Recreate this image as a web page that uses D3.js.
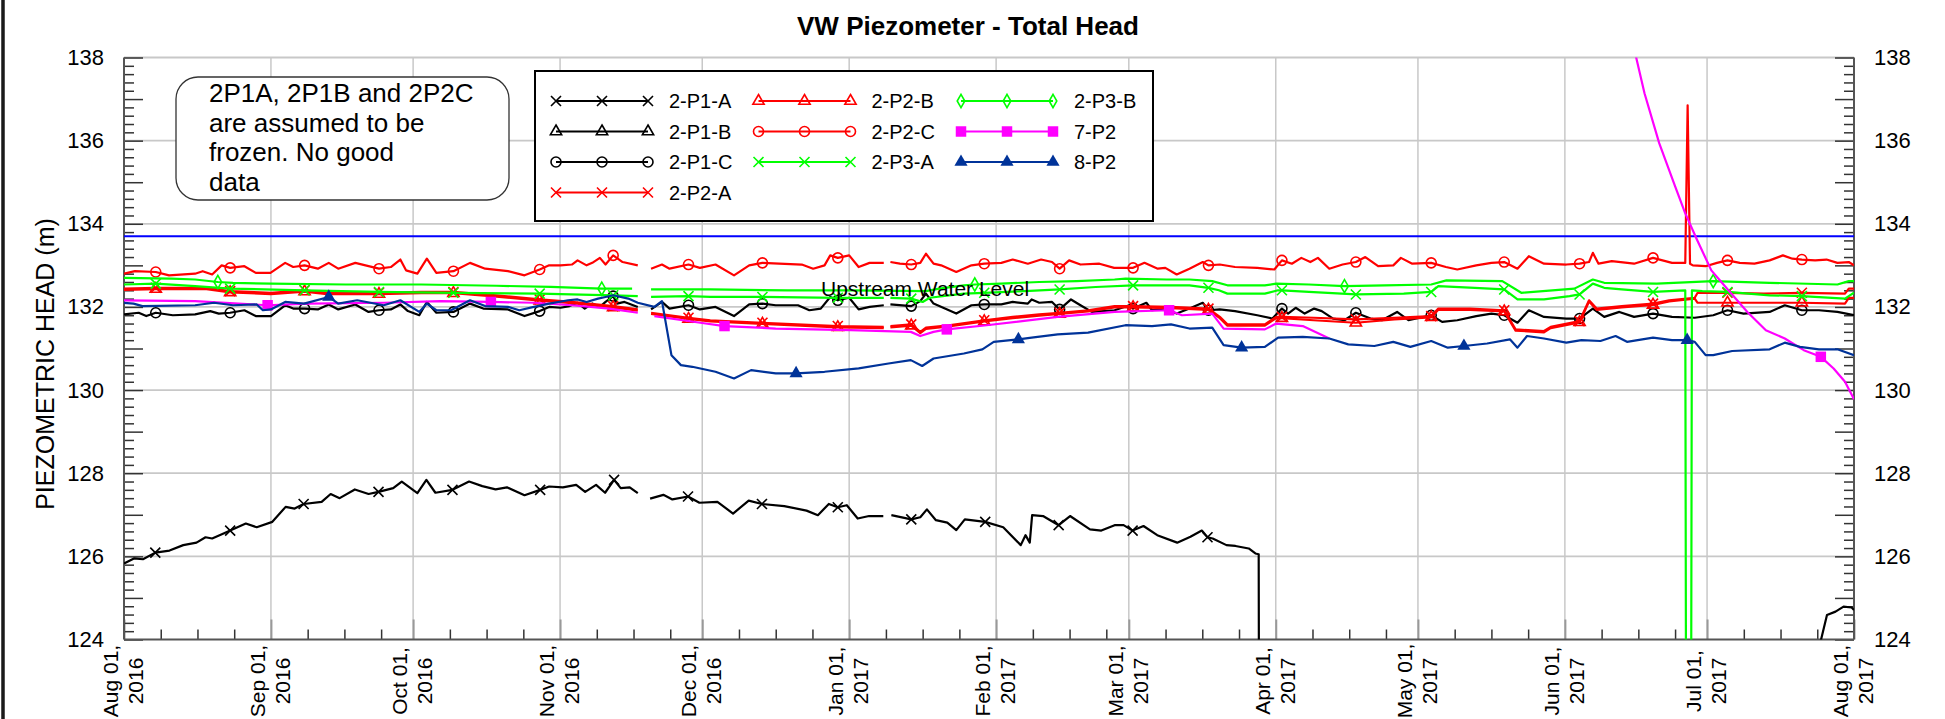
<!DOCTYPE html>
<html><head><meta charset="utf-8">
<script src="https://cdn.jsdelivr.net/npm/d3@7"></script>
<style>
html,body{margin:0;padding:0;background:#fff;overflow:hidden}
svg text{font-family:"Liberation Sans",Arial,sans-serif;fill:#000}
</style></head><body>
<svg id="chart" width="1945" height="719"></svg>
<script>
// ---------------- DATA ----------------
const chartTitle = "VW Piezometer - Total Head";
const yAxisTitle = "PIEZOMETRIC HEAD (m)";
const startDate = "2016-08-01";
const endDate = "2017-08-01";
const yMin = 124, yMax = 138;
const yLabelValues = [124, 126, 128, 130, 132, 134, 136, 138];
const upstreamLevel = 133.7;
const upstreamLabel = "Upstream Water Level";
const noteLines = ["2P1A, 2P1B and 2P2C", "are assumed to be", "frozen. No good", "data"];
const seriesNames = ["2-P1-A","2-P1-B","2-P1-C","2-P2-A","2-P2-B","2-P2-C","2-P3-A","2-P3-B","7-P2","8-P2"];

// each point: [days since startDate, head (m), marker flag]
const s2P1A = [[0,125.83],[2.1,125.95],[4,125.93],[6.6,126.09,1],[9.6,126.14],[12.5,126.27],[15.3,126.33],[17.2,126.46],[18.6,126.43],[21,126.55],[22.4,126.62,1],[25.7,126.79],[28,126.70],[31.3,126.83],[34.1,127.19],[36,127.15],[37.9,127.26,1],[41.7,127.31],[43.6,127.50],[45.5,127.40],[48.7,127.61],[51.6,127.50],[53.7,127.55,1],[56.8,127.64],[58.6,127.80],[61.9,127.52],[63.8,127.84],[65.7,127.53],[69.3,127.60,1],[72.8,127.80],[75.6,127.69],[78.4,127.61],[80.8,127.66],[84.5,127.47],[87.8,127.60,1],[89.7,127.68],[92.6,127.66],[95.4,127.72],[97.3,127.55],[99.6,127.72],[101.5,127.53],[103.4,127.84,1],[104.8,127.64],[106.7,127.66],[108.4,127.52],[109.8,null],[111,127.39],[113.8,127.48],[115.7,127.37],[119,127.44,1],[121.4,127.29],[125.2,127.31],[128.5,127.03],[131.8,127.34],[134.6,127.26,1],[139.3,127.21],[144,127.10],[146.4,126.99],[148.7,127.26],[150.6,127.18,1],[152.5,127.23],[154.8,126.91],[157.2,126.97],[160.2,126.97],[161,null],[161.9,126.99],[166.1,126.89,1],[168,126.94],[169.4,127.13],[171.3,126.87],[173.7,126.81],[175.6,126.63],[177.4,126.89],[181.7,126.83,1],[185.5,126.70],[189.2,126.27],[190.2,126.51],[191.1,126.33],[191.6,126.99],[193.9,126.97],[197.2,126.75,1],[199.6,126.97],[203.8,126.65],[206.2,126.62],[209,126.75],[210.9,126.75],[212.8,126.62,1],[215.1,126.73],[218,126.51],[222.2,126.33],[225,126.47],[227.4,126.62],[228.6,126.46,1],[229.7,126.43],[232.6,126.27],[234.5,126.25],[237.3,126.19],[238.7,126.07],[239.4,126.05],[239.5,120.0],[240,null],[357,123.5],[359.3,124.59],[361.1,124.67],[362.8,124.79],[364.5,124.77],[365,124.71]];

const s2P1B = [];

const s2P1C = [[0,131.82],[3.1,131.86],[4.7,131.78],[6.7,131.86,1],[10.3,131.80],[15,131.82],[18.2,131.90],[20,131.84],[22.4,131.86,1],[25.4,131.92],[27.8,131.78],[31,131.78],[34,132.04],[35.7,131.96],[38.1,131.96,1],[40.9,131.94],[43.2,132.06],[45.2,131.94],[48.8,132.06],[51.6,131.88],[53.8,131.92,1],[56.3,131.94],[58.3,132.06],[59.9,131.90],[62.3,131.80],[63.9,132.12],[65.9,131.86],[69.5,131.88,1],[73,132.08],[75.8,131.96],[81,131.94],[84.5,131.78],[87.7,131.90,1],[89.7,132.00],[92.1,131.98],[94,132.02],[95.7,132.10],[97.2,131.96],[98.8,132.08],[100.4,132.00],[101.6,132.12],[103.2,132.26,1],[104,132.08],[105.6,132.12],[108.4,132.00],[109.8,null],[111.2,131.94],[113.5,132.12],[115.1,131.96],[119.1,132.04,1],[121.5,131.94],[124.8,132.00],[128.7,131.78],[131.9,132.06],[134.7,132.08,1],[137.5,132.04],[142.2,132.04],[144.6,131.92],[147,131.96],[149,132.24],[150.6,132.16,1],[153,132.22],[155,131.94],[157.3,132.00],[160.3,132.04],[161,null],[161.7,132.06],[166.1,132.02,1],[168,132.14],[169.2,132.32],[170.8,132.08],[173.2,131.96],[175.6,131.84],[178.8,132.04],[181.5,132.06,1],[185.1,132.06],[187.5,132.12],[190.7,132.08],[191.5,132.18],[193.1,132.10],[195.8,132.12],[197.4,131.94,1],[199.8,132.18],[201.8,132.04],[204.2,131.88],[209,131.92],[212.1,132.04],[212.9,131.96,1],[215.7,132.10],[216.9,131.92],[219.3,131.96],[222.1,131.84],[224.8,131.96],[227.6,132.10],[228.8,131.92,1],[231.2,131.94],[234.4,131.90],[239.1,131.80],[242.3,131.72],[244.3,131.96,1],[245.6,131.84],[247.2,131.98],[249.1,131.84],[251.1,131.96],[252.7,131.90],[255.1,131.72],[257.5,131.68],[259.9,131.86,1],[263,131.72],[265.4,131.68],[268.6,131.88],[271,131.68],[275.8,131.80,1],[278.1,131.64],[281.3,131.68],[285.3,131.78],[288.5,131.84],[291.2,131.80,1],[294,131.62],[296.4,131.92],[299.6,131.76],[304.3,131.72],[307.1,131.72,1],[309.9,131.96],[312.3,131.76],[315.5,131.88],[318.6,131.76],[322.6,131.84,1],[326.6,131.76],[331.4,131.74],[335.3,131.80],[338.3,131.92,1],[341.7,131.84],[347.2,131.88],[350.4,132.04],[354,131.92,1],[357.6,131.92],[361.5,131.88],[365,131.80]];

const s2P2A = [[0,132.44],[6.7,132.46,1],[17.4,132.46],[22.4,132.38,1],[31,132.34],[38.1,132.40,1],[42.8,132.34],[53.8,132.34,1],[62.7,132.36],[69.5,132.36,1],[78.6,132.28],[87.7,132.18,1],[94.5,132.12],[103.2,132.02,1],[108.4,131.94],[109.8,null],[111.2,131.86],[119.1,131.74,1],[123.7,131.68],[134.7,131.62,1],[150.6,131.54,1],[160.3,131.52],[161,null],[161.7,131.54],[166.1,131.58,1],[168,131.40],[169.2,131.50],[174,131.56],[181.5,131.68,1],[187.5,131.76],[193.1,131.82],[197.4,131.86,1],[203.4,131.92],[209,132.02],[212.9,132.02,1],[220.9,132.00],[228.8,131.96,1],[231.2,131.76],[232.8,131.58],[240.7,131.58],[243.1,131.76],[244.3,131.76,1],[251,131.74],[259.9,131.70,1],[268,131.74],[275.8,131.78,1],[277.3,131.96],[284,131.96],[291.2,131.92,1],[293.6,131.46],[299.6,131.42],[301,131.52],[307.1,131.66,1],[309.1,132.16],[310.7,131.96],[316,132.02],[322.6,132.08,1],[326,132.16],[331.4,132.22],[332,132.34],[338.3,132.34,1],[346,132.32],[354,132.34,1],[363.1,132.32],[363.9,132.44],[365,132.44]];

const s2P2B = [[0,132.41],[6.7,132.43,1],[17.4,132.43],[22.4,132.35,1],[31,132.31],[38.1,132.37,1],[42.8,132.31],[53.8,132.31,1],[62.7,132.33],[69.5,132.33,1],[78.6,132.25],[87.7,132.15,1],[94.5,132.09],[103.2,131.99,1],[108.4,131.91],[109.8,null],[111.2,131.83],[119.1,131.71,1],[123.7,131.65],[134.7,131.59,1],[150.6,131.51,1],[160.3,131.49],[161,null],[161.7,131.51],[166.1,131.55,1],[168,131.37],[169.2,131.47],[174,131.53],[181.5,131.65,1],[187.5,131.73],[193.1,131.79],[197.4,131.83,1],[203.4,131.89],[209,131.99],[212.9,131.99,1],[220.9,131.97],[228.8,131.93,1],[231.2,131.73],[232.8,131.55],[240.7,131.55],[243.1,131.73],[244.3,131.73,1],[251,131.68],[259.9,131.62,1],[268,131.70],[275.8,131.75,1],[277.3,131.93],[284,131.93],[291.2,131.89,1],[293.6,131.43],[299.6,131.39],[301,131.49],[307.1,131.63,1],[309.1,132.13],[310.7,131.93],[316,131.99],[322.6,132.05,1],[326,132.13],[331.4,132.20],[332,132.10],[338.3,132.10,1],[346,132.10],[354,132.10,1],[363.1,132.08],[363.9,132.22],[365,132.22]];

const s2P2C = [[0,132.80],[2.3,132.86],[6.7,132.84,1],[9.5,132.76],[15,132.80],[16.6,132.86],[18.6,132.78],[20.6,133.00],[22.4,132.94,1],[25.4,132.98],[27.8,132.82],[30.9,132.82],[34,133.06],[35.7,132.96],[38.1,133.00,1],[40.9,132.92],[43.2,133.06],[45.2,132.92],[48.8,133.06],[51.6,132.98],[53.8,132.92,1],[56.3,132.96],[58.3,133.14],[59.5,132.88],[61.9,132.80],[63.9,133.16],[65.9,132.82],[69.5,132.86,1],[73,133.06],[76.2,132.92],[81,132.86],[84.5,132.76],[87.7,132.90,1],[89.7,133.00],[92.1,133.00],[94.5,133.02],[95.7,133.12],[97.6,133.00],[98.8,133.06],[100.4,133.18],[101.6,133.02],[103.2,133.24,1],[105.2,133.08],[108.4,133.00],[109.8,null],[111.2,132.92],[113.5,133.02],[115.1,132.92],[119.1,133.02,1],[121.5,132.94],[124.8,133.02],[128.7,132.76],[131.9,133.00],[134.7,133.06,1],[138.2,133.04],[143,133.02],[145.4,132.92],[147.8,133.00],[149,133.24],[150.6,133.18,1],[153,133.24],[155,132.96],[157.3,133.06],[160.3,133.06],[161,null],[161.7,133.08],[163.7,133.04],[166.1,133.02,1],[168,133.06],[169.2,133.28],[170.8,133.04],[172.4,133.00],[175.6,132.84],[178.8,133.00],[181.5,133.04,1],[185.1,133.06],[187.5,133.14],[190.7,133.04],[193.5,133.14],[195.8,133.08],[197.4,132.92,1],[199.4,133.12],[201.8,133.02],[205.8,133.04],[208.9,132.94],[212.9,132.94,1],[215.3,133.06],[218.1,132.92],[219.7,132.94],[222.1,132.78],[224.8,132.92],[227.6,133.08],[228.8,133.00,1],[231.2,133.02],[234.4,132.96],[239.1,132.94],[242.7,132.90],[244.3,133.12,1],[246.4,133.04],[248.4,133.18],[250.3,133.08],[251.9,133.18],[254.3,132.92],[257.1,133.02],[259.9,133.08,1],[261.9,133.20],[264.6,132.98],[267.8,133.00],[269.4,133.18],[271.8,133.04],[275.8,133.06,1],[278.9,132.96],[281.3,132.90],[285.3,133.00],[288.5,133.06],[291.2,133.08,1],[294,132.92],[296.4,133.22],[299.6,133.04],[304.3,133.02],[307.1,133.04,1],[309.1,133.08],[309.9,133.30],[311.1,133.04],[313.9,133.10],[318.6,133.04],[322.6,133.18,1],[326.6,133.06],[329.4,133.06],[329.9,136.85],[330.4,133.04],[331,133.00],[333.7,132.98],[336.1,133.06],[338.3,133.12,1],[340.9,133.06],[344,133.04],[347.2,133.12],[350,133.24],[352,133.16],[354,133.14,1],[356.8,133.12],[359.2,133.14],[361.5,133.06],[363.9,133.08],[365,133.00]];

const s2P3A = [[0,132.54],[6.7,132.56,1],[15,132.50],[22.4,132.44,1],[38.1,132.40,1],[53.8,132.36,1],[69.5,132.34,1],[87.7,132.32,1],[103.2,132.28,1],[108.4,132.26],[109.8,null],[111.2,132.24],[119.1,132.26,1],[123.7,132.24],[134.7,132.24,1],[150.6,132.22,1],[160.3,132.22],[161,null],[161.7,132.22],[166.1,132.20,1],[168.5,132.12],[170,132.22],[177.2,132.32],[181.5,132.34,1],[190,132.38],[197.4,132.42,1],[205,132.48],[212.9,132.52,1],[224.8,132.52],[228.8,132.46,1],[231,132.40],[232.8,132.32],[240.7,132.32],[243.5,132.40],[244.3,132.40,1],[250,132.36],[259.9,132.30,1],[270,132.32],[275.8,132.36,1],[277.3,132.50],[285,132.46],[291.2,132.42,1],[294,132.18],[299.6,132.18],[305,132.26],[307.1,132.30,1],[309.9,132.56],[312.3,132.46],[316,132.42],[322.6,132.36,1],[329.4,132.40],[329.6,120.0],[330.6,120.0],[330.8,132.40],[333,132.38],[338.3,132.36,1],[347.2,132.28],[354,132.26,1],[363.1,132.20],[365,132.34]];

const s2P3B = [[0,132.70],[10,132.68],[15,132.66],[19.8,132.60,1],[23,132.58],[31,132.56],[46.8,132.54],[62.7,132.54],[78.6,132.51],[90,132.48],[100.8,132.44,1],[107.2,132.44],[109.8,null],[111.2,132.42],[123.7,132.42],[140,132.40],[153.3,132.40],[169.2,132.38],[172,132.44],[177.2,132.52],[179.5,132.54,1],[185,132.56],[193.1,132.60],[201,132.62],[209,132.66],[211.3,132.68],[220,132.66],[224.8,132.66],[229.6,132.62],[232.8,132.52],[240.7,132.52],[243.1,132.56],[250,132.54],[257.5,132.50,1],[266,132.52],[275.8,132.54],[279,132.64],[290.8,132.62],[294.8,132.34],[306,132.44],[309.9,132.66],[312.3,132.58],[323.4,132.56],[335.3,132.62,1],[347.2,132.58],[361.5,132.54],[363.9,132.62],[365,132.62]];

const s7P2 = [[0,132.16],[15,132.14],[30.3,132.04,1],[38.9,132.08],[54.8,132.10],[66.7,132.14],[77.4,132.12,1],[86.5,132.10],[94.5,132.04],[102.4,131.96],[108.4,131.86],[109.8,null],[111.9,131.78],[121.6,131.62],[126.7,131.54,1],[137.5,131.48],[153.3,131.44],[166,131.40],[168,131.30],[170.8,131.40],[173.6,131.46,1],[182,131.56],[197,131.76],[209,131.88],[220.5,131.92,1],[223.2,131.80],[229.6,131.84],[232,131.48],[240.7,131.46],[243.1,131.60],[248.7,131.54],[254.3,131.24],[255,null],[317,139.0],[320.8,137.14],[323.9,135.94],[327.3,134.89],[329.4,134.25],[331.9,133.61],[334.9,132.88],[338.5,132.40],[342.5,131.88],[346.4,131.44],[350.4,131.24],[354.4,130.96],[358,130.80,1],[360.7,130.52],[363.1,130.20],[365,129.78]];

const s8P2 = [[0,132.10],[2,132.08],[3.9,132.02],[15,132.04],[19,132.10],[23,132.04],[28,132.06],[29.3,131.92],[31,131.94],[34,132.12],[38,132.08],[43.2,132.24,1],[45.2,132.08],[49.2,132.16],[54.8,132.04],[58.3,132.16],[62.3,131.88],[63.9,132.08],[65.9,131.92],[69,131.92],[73,132.16],[76.2,132.02],[81,132.00],[83.4,131.92],[86.5,132.00],[89.7,132.08],[93.7,132.16],[95.7,132.18],[97.6,132.12],[100,132.20],[101.6,132.24],[103.2,132.28],[106.4,132.20],[108.4,132.10],[111.9,132.00],[113.5,132.14],[115.5,130.84],[117.5,130.60],[119.9,130.56],[124.8,130.44],[128.7,130.28],[132.3,130.48],[137.5,130.40],[141.8,130.40,1],[147.8,130.44],[155,130.52],[161.3,130.64],[166,130.72],[168.4,130.58],[170.8,130.76],[177.2,130.88],[181.1,130.98],[183.5,131.16],[188.7,131.22,1],[191.5,131.26],[197,131.34],[203.4,131.38],[211.3,131.56],[216.9,131.54],[220.9,131.58],[224.8,131.48],[229.6,131.50],[232,131.08],[235.8,131.02,1],[240.7,131.04],[243.5,131.26],[248.7,131.28],[254.3,131.24],[258.3,131.10],[263.8,131.06],[267.8,131.16],[271.4,131.04],[275.8,131.18],[279.3,131.02],[282.7,131.06,1],[287.6,131.12],[292.4,131.22],[294,131.02],[296,131.30],[299.6,131.24],[304.3,131.14],[307.5,131.20],[311.5,131.18],[314.7,131.30],[317.1,131.16],[322.6,131.26],[326.6,131.20],[329.8,131.20,1],[331.4,131.16],[333.7,130.84],[335.3,130.84],[339.3,130.94],[347.2,130.98],[350.4,131.14],[353.6,131.04],[357.6,130.98],[361.5,130.98],[365,130.84]];

// ---------------- STYLE TABLE (built from the arrays) ----------------
const series = [
  {name:seriesNames[0], data:s2P1A, color:"#000000", marker:"x"},
  {name:seriesNames[1], data:s2P1B, color:"#000000", marker:"triOpen"},
  {name:seriesNames[2], data:s2P1C, color:"#000000", marker:"circle"},
  {name:seriesNames[3], data:s2P2A, color:"#ff0000", marker:"x"},
  {name:seriesNames[4], data:s2P2B, color:"#ff0000", marker:"triOpen"},
  {name:seriesNames[5], data:s2P2C, color:"#ff0000", marker:"circle"},
  {name:seriesNames[6], data:s2P3A, color:"#00ff00", marker:"x"},
  {name:seriesNames[7], data:s2P3B, color:"#00ff00", marker:"diamond"},
  {name:seriesNames[8], data:s7P2, color:"#ff00ff", marker:"square"},
  {name:seriesNames[9], data:s8P2, color:"#003399", marker:"triFill"}
];

// ---------------- LAYOUT ----------------
const W = 1945, H = 719;
const L = 124, R = 1854, T = 57.5, B = 639.5;
const svg = d3.select("#chart");
const parse = d3.utcParse("%Y-%m-%d");
const t0 = parse(startDate), t1 = parse(endDate);
const x = d3.scaleUtc().domain([t0, t1]).range([L, R]);
const y = d3.scaleLinear().domain([yMin, yMax]).range([B, T]);
const dayToDate = d => new Date(t0.getTime() + d * 864e5);

svg.append("rect").attr("width", W).attr("height", H).attr("fill", "#fff");
// left page border
svg.append("line").attr("x1", 3).attr("x2", 3).attr("y1", 0).attr("y2", H)
  .attr("stroke", "#1a1a1a").attr("stroke-width", 3.5);

const months = d3.utcMonth.range(t0, d3.utcDay.offset(t1, 1));
const gridColor = "#c8c8c8";

// gridlines
const grid = svg.append("g");
grid.selectAll(".vg").data(months.slice(1, -1)).join("line")
  .attr("x1", d => x(d)).attr("x2", d => x(d)).attr("y1", T).attr("y2", B)
  .attr("stroke", gridColor).attr("stroke-width", 1.5);
grid.selectAll(".hg").data(yLabelValues.filter(v => v > yMin)).join("line")
  .attr("x1", L).attr("x2", R).attr("y1", d => y(d)).attr("y2", d => y(d))
  .attr("stroke", gridColor).attr("stroke-width", 1.8);

// month tick marks on bottom axis (longer, gray)
svg.append("g").attr("transform", `translate(0,${B})`)
  .call(d3.axisBottom(x).tickValues(months).tickSize(-20).tickFormat(""))
  .call(g => g.select(".domain").remove())
  .call(g => g.selectAll(".tick line").attr("stroke", "#999").attr("stroke-width", 2));
// minor ticks on bottom axis
const minorX = [];
months.slice(0, -1).forEach((m, i) => {
  const next = months[i + 1];
  for (let k = 1; k <= 3; k++) {
    const t = new Date(m.getTime() + k * 7.75 * 864e5);
    if (t < next) minorX.push(t);
  }
});
svg.append("g").attr("transform", `translate(0,${B})`)
  .call(d3.axisBottom(x).tickValues(minorX).tickSize(-10).tickFormat(""))
  .call(g => g.select(".domain").remove())
  .call(g => g.selectAll(".tick line").attr("stroke", "#333").attr("stroke-width", 1.5));

// y axis ticks
const unitTicks = d3.range(yMin, yMax + 0.001, 1);
const minorY = d3.range(0, 71).map(i => yMin + i * 0.2).filter(v => Math.abs(v - Math.round(v)) > 0.01);
function yAxes(gen, xpos, pad) {
  svg.append("g").attr("transform", `translate(${xpos},0)`)
    .call(gen(y).tickValues(minorY).tickSize(-10).tickFormat(""))
    .call(g => g.select(".domain").remove())
    .call(g => g.selectAll(".tick line").attr("stroke", "#333").attr("stroke-width", 1.5));
  svg.append("g").attr("transform", `translate(${xpos},0)`)
    .call(gen(y).tickValues(unitTicks).tickSize(-19).tickPadding(pad)
      .tickFormat(v => yLabelValues.includes(v) ? d3.format("d")(v) : ""))
    .call(g => g.select(".domain").remove())
    .call(g => g.selectAll(".tick line").attr("stroke", "#333").attr("stroke-width", 1.5))
    .call(g => g.selectAll(".tick text").attr("font-size", 22).attr("fill", "#000"));
}
yAxes(d3.axisLeft, L, 20);
yAxes(d3.axisRight, R, 20);

// axis lines
svg.append("line").attr("x1", L).attr("x2", L).attr("y1", T).attr("y2", B).attr("stroke", "#555").attr("stroke-width", 2);
svg.append("line").attr("x1", R).attr("x2", R).attr("y1", T).attr("y2", B).attr("stroke", "#555").attr("stroke-width", 2);
svg.append("line").attr("x1", L).attr("x2", R).attr("y1", B).attr("y2", B).attr("stroke", "#555").attr("stroke-width", 2);

// x tick labels (two lines, rotated), kept fully inside the picture
const fmtA = d3.utcFormat("%b %d,"), fmtB = d3.utcFormat("%Y");
const xl = svg.append("g").selectAll("g").data(months).join("g")
  .attr("transform", d => `translate(${x(d)},681) rotate(-90)`);
const xt = xl.append("text").attr("text-anchor", "middle").attr("font-size", 21);
xt.append("tspan").attr("x", 0).attr("y", -6).text(d => fmtA(d));
xt.append("tspan").attr("x", 0).attr("y", 19).text(d => fmtB(d));

// y axis title
svg.append("text").attr("transform", "translate(54,364) rotate(-90)")
  .attr("text-anchor", "middle").attr("font-size", 25).text(yAxisTitle);

// title
svg.append("text").attr("x", 968).attr("y", 35).attr("text-anchor", "middle")
  .attr("font-size", 26).attr("font-weight", "bold").text(chartTitle);

// clip
svg.append("clipPath").attr("id", "plotclip").append("rect")
  .attr("x", L).attr("y", T).attr("width", R - L).attr("height", B - T);
const plot = svg.append("g").attr("clip-path", "url(#plotclip)");

// upstream water level
plot.append("line").attr("x1", L).attr("x2", R).attr("y1", y(upstreamLevel)).attr("y2", y(upstreamLevel))
  .attr("stroke", "#0000ff").attr("stroke-width", 2);

// markers
function drawMarker(g, type, color) {
  if (type === "x") {
    g.append("path").attr("d", "M-5,-5L5,5M-5,5L5,-5").attr("stroke", color).attr("stroke-width", 1.6).attr("fill", "none");
  } else if (type === "circle") {
    g.append("circle").attr("r", 5).attr("stroke", color).attr("stroke-width", 1.6).attr("fill", "none");
  } else if (type === "triOpen") {
    g.append("path").attr("d", d3.symbol(d3.symbolTriangle, 55)()).attr("stroke", color).attr("stroke-width", 1.6).attr("fill", "none");
  } else if (type === "diamond") {
    g.append("path").attr("d", d3.symbol(d3.symbolDiamond, 50)()).attr("stroke", color).attr("stroke-width", 1.6).attr("fill", "none");
  } else if (type === "square") {
    g.append("path").attr("d", d3.symbol(d3.symbolSquare, 110)()).attr("fill", color);
  } else if (type === "triFill") {
    g.append("path").attr("d", d3.symbol(d3.symbolTriangle, 75)()).attr("fill", color);
  }
}

const line = d3.line().defined(d => d[1] != null).x(d => x(dayToDate(d[0]))).y(d => y(d[1]));
series.forEach(s => {
  const g = plot.append("g");
  g.append("path").datum(s.data).attr("d", line).attr("fill", "none")
    .attr("stroke", s.color).attr("stroke-width", 2.2).attr("stroke-linejoin", "round");
  g.selectAll(".m").data(s.data.filter(d => d[2] === 1 && d[1] != null)).join("g")
    .attr("transform", d => `translate(${x(dayToDate(d[0]))},${y(d[1])})`)
    .each(function () { drawMarker(d3.select(this), s.marker, s.color); });
});

// upstream label
svg.append("text").attr("x", 821).attr("y", 296).attr("font-size", 21).text(upstreamLabel);

// note box
svg.append("rect").attr("x", 176).attr("y", 77).attr("width", 333).attr("height", 123).attr("rx", 22)
  .attr("fill", "#fff").attr("stroke", "#333").attr("stroke-width", 1.3);
svg.append("g").selectAll("text").data(noteLines).join("text")
  .attr("x", 209).attr("y", (d, i) => 102 + i * 29.5).attr("font-size", 26).text(d => d);

// legend
const lg = svg.append("g");
lg.append("rect").attr("x", 535).attr("y", 71).attr("width", 618).attr("height", 150)
  .attr("fill", "#fff").attr("stroke", "#000").attr("stroke-width", 2);
const legendCols = [[0,1,2,3],[4,5,6],[7,8,9]];
legendCols.forEach((col, ci) => {
  col.forEach((si, ri) => {
    const s = series[si];
    const x0 = 556 + ci * 202.5, yc = 101 + ri * 30.5;
    const g = lg.append("g");
    g.append("line").attr("x1", x0).attr("x2", x0 + 92).attr("y1", yc).attr("y2", yc)
      .attr("stroke", s.color).attr("stroke-width", 2.2);
    [0, 46, 92].forEach(dx => {
      const mg = g.append("g").attr("transform", `translate(${x0 + dx},${yc})`);
      drawMarker(mg, s.marker, s.color);
    });
    g.append("text").attr("x", x0 + 113).attr("y", yc + 7).attr("font-size", 20).text(s.name);
  });
});
</script>
</body></html>
